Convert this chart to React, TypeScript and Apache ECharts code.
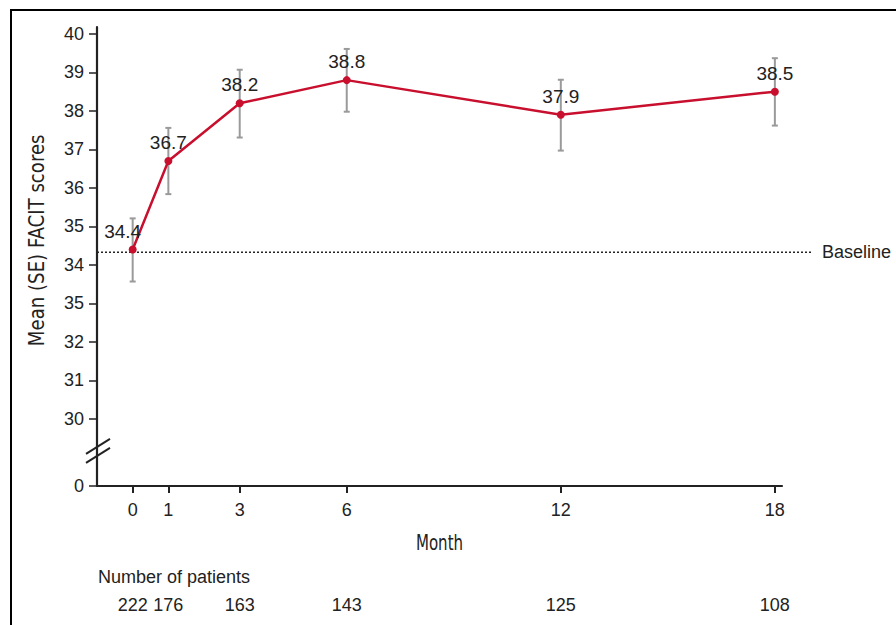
import React, { useEffect, useRef } from "react";
import * as echarts from "echarts";

// ---- data ----
const months = [0, 1, 3, 6, 12, 18];
const meanScores = [34.4, 36.7, 38.2, 38.8, 37.9, 38.5];
const seLow = [33.57, 35.84, 37.31, 37.98, 36.97, 37.62];
const seHigh = [35.21, 37.56, 39.07, 39.61, 38.81, 39.37];
const patients = [222, 176, 163, 143, 125, 108];
const baselineValue = 34.33;

// y ticks: the axis is broken between 0 and 30
const BREAK_POS = 28.27; // axis position where the "0" tick is drawn
const yTickValues = [0, 30, 31, 32, 33, 34, 35, 36, 37, 38, 39, 40];
const yTickLabels = ["0", "30", "31", "32", "35", "34", "35", "36", "37", "38", "39", "40"];
const xTickLabels = ["0", "1", "3", "6", "12", "18"];

const toAxis = (v: number) => (v === 0 ? BREAK_POS : v);

const FONT = "'Liberation Sans', Arial, Helvetica, sans-serif";
const COND = "'DejaVu Sans Condensed', 'Liberation Sans Narrow', 'Roboto', sans-serif";
const RED = "#C8102E";
const INK = "#222222";

export default function App() {
  const ref = useRef<HTMLDivElement>(null);

  useEffect(() => {
    document.body.style.margin = "0";
    if (!ref.current) return;
    const chart = echarts.init(ref.current, null, { renderer: "svg" });

    const yPositions = yTickValues.map(toAxis);
    const labelFor = (v: number) => {
      const i = yPositions.findIndex((p) => Math.abs(p - v) < 1e-6);
      return i >= 0 ? yTickLabels[i] : "";
    };
    const xLabelFor = (v: number) => {
      const i = months.indexOf(v);
      return i >= 0 ? xTickLabels[i] : "";
    };
    const patientsFor = (v: number) => {
      const i = months.indexOf(v);
      return i >= 0 ? String(patients[i]) : "";
    };

    chart.setOption({
      animation: false,
      backgroundColor: "#ffffff",
      grid: { left: 97, right: 114, top: 27, bottom: 139, containLabel: false },
      xAxis: [
        {
          type: "value",
          min: -1,
          max: 18.2,
          axisLine: { show: true, onZero: false, lineStyle: { color: INK, width: 2.2 } },
          axisTick: {
            show: true,
            length: 7,
            lineStyle: { color: INK, width: 2 },
            customValues: months,
          },
          axisLabel: {
            show: true,
            margin: 15,
            fontFamily: FONT,
            fontSize: 18,
            color: INK,
            customValues: months,
            formatter: (v: number) => xLabelFor(v),
          },
          splitLine: { show: false },
        },
        {
          type: "value",
          position: "bottom",
          offset: 100,
          min: -1,
          max: 18.2,
          axisLine: { show: false },
          axisTick: { show: false },
          splitLine: { show: false },
          axisLabel: {
            show: true,
            margin: 10,
            fontFamily: FONT,
            fontSize: 18,
            color: INK,
            customValues: months,
            formatter: (v: number) => patientsFor(v),
          },
        },
      ],
      yAxis: {
        type: "value",
        min: BREAK_POS - 0.01,
        max: 40.18,
        axisLine: { show: true, onZero: false, lineStyle: { color: INK, width: 2.2 } },
        axisTick: {
          show: true,
          length: 8,
          lineStyle: { color: INK, width: 1.5 },
          customValues: yPositions,
        },
        axisLabel: {
          show: true,
          margin: 13,
          fontFamily: FONT,
          fontSize: 18,
          color: INK,
          customValues: yPositions,
          formatter: (v: number) => labelFor(v),
        },
        splitLine: { show: false },
      },
      series: [
        {
          type: "custom",
          name: "SE",
          xAxisIndex: 0,
          yAxisIndex: 0,
          z: 1,
          data: months.map((m, i) => [m, seLow[i], seHigh[i]]),
          renderItem: (params: any, api: any) => {
            const x = api.value(0);
            const lo = api.coord([x, api.value(1)]);
            const hi = api.coord([x, api.value(2)]);
            const cap = 3;
            const st = { stroke: "#9a9a9a", lineWidth: 2 };
            return {
              type: "group",
              children: [
                { type: "line", shape: { x1: lo[0], y1: lo[1], x2: hi[0], y2: hi[1] }, style: st },
                { type: "line", shape: { x1: lo[0] - cap, y1: lo[1], x2: lo[0] + cap, y2: lo[1] }, style: st },
                { type: "line", shape: { x1: hi[0] - cap, y1: hi[1], x2: hi[0] + cap, y2: hi[1] }, style: st },
              ],
            };
          },
        },
        {
          type: "line",
          name: "Mean",
          xAxisIndex: 0,
          yAxisIndex: 0,
          z: 3,
          data: months.map((m, i) =>
            i === 0
              ? { value: [m, meanScores[i]], label: { offset: [-10, 0] } }
              : { value: [m, meanScores[i]] }
          ),
          symbol: "circle",
          symbolSize: 8,
          lineStyle: { color: RED, width: 2.5 },
          itemStyle: { color: RED },
          label: {
            show: true,
            position: "top",
            distance: 5,
            fontFamily: FONT,
            fontSize: 19,
            color: INK,
            formatter: (p: any) => p.value[1].toFixed(1),
          },
        },
      ],
    });

    const px = (x: number, y: number) => chart.convertToPixel({ gridIndex: 0 }, [x, y]) as number[];
    const base = px(-1, baselineValue);
    const baseEnd = px(18.2, baselineValue);
    const brk = px(-1, 29.17);
    const yMid = px(-1, (BREAK_POS + 40.18) / 2);
    const xMid = px(8.6, BREAK_POS);

    chart.setOption({
      graphic: [
        {
          type: "rect",
          shape: { x: 11, y: 10, width: 1000, height: 800 },
          style: { fill: "none", stroke: "#000", lineWidth: 2 },
          silent: true,
          z: 0,
        },
        {
          type: "line",
          shape: { x1: base[0], y1: base[1], x2: baseEnd[0] + 30, y2: base[1] },
          style: { stroke: INK, lineWidth: 1.5, lineDash: [2, 2] },
          z: 2,
        },
        {
          type: "text",
          x: baseEnd[0] + 40,
          y: base[1],
          style: { text: "Baseline", fontFamily: FONT, fontSize: 18, fill: INK, align: "left", verticalAlign: "middle" },
        },
        {
          type: "line",
          shape: { x1: brk[0] - 11, y1: brk[1] + 3, x2: brk[0] + 13, y2: brk[1] - 12 },
          style: { stroke: INK, lineWidth: 2 },
        },
        {
          type: "line",
          shape: { x1: brk[0] - 11, y1: brk[1] + 12, x2: brk[0] + 13, y2: brk[1] - 3 },
          style: { stroke: INK, lineWidth: 2 },
        },
        {
          type: "text",
          x: 37,
          y: yMid[1] - 16,
          rotation: Math.PI / 2,
          scaleX: 0.96,
          style: {
            text: "Mean (SE) FACIT scores",
            fontFamily: COND,
            fontSize: 21,
            fill: INK,
            align: "center",
            verticalAlign: "middle",
          },
        },
        {
          type: "text",
          x: xMid[0],
          y: 543,
          scaleX: 0.76,
          style: {
            text: "Month",
            fontFamily: COND,
            fontSize: 22,
            fill: INK,
            align: "center",
            verticalAlign: "middle",
          },
        },
        {
          type: "text",
          x: 98,
          y: 577,
          style: {
            text: "Number of patients",
            fontFamily: FONT,
            fontSize: 18,
            fill: INK,
            align: "left",
            verticalAlign: "middle",
          },
        },
      ],
    });

    return () => chart.dispose();
  }, []);

  return <div ref={ref} style={{ width: 896, height: 625 }} />;
}
